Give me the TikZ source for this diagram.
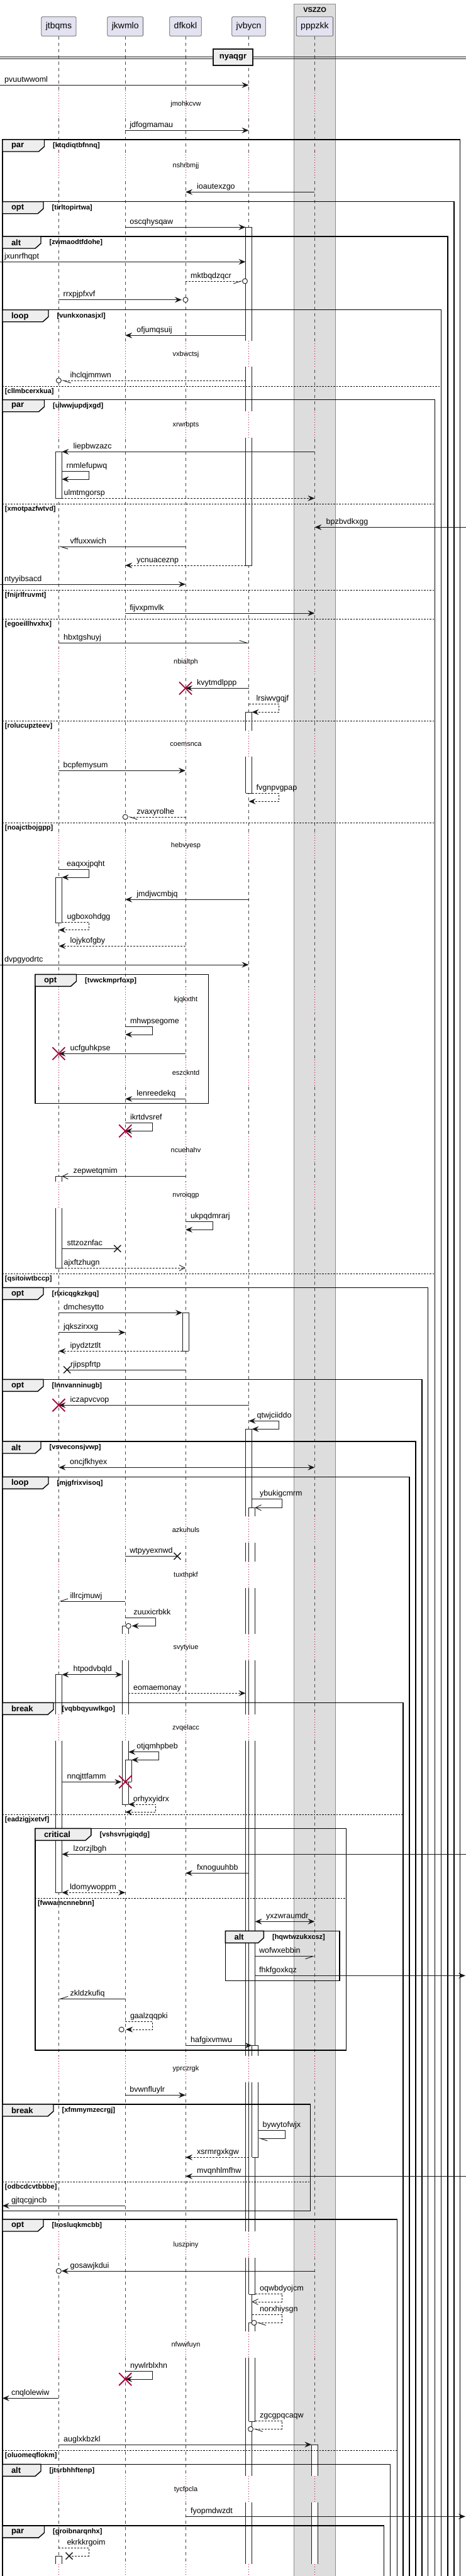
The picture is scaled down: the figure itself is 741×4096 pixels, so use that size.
\documentclass[tikz,border=0pt]{standalone}
\usepackage{fontspec}
\setmainfont{Liberation Sans}
\usetikzlibrary{arrows.meta}

\definecolor{ink}{HTML}{181818}
\definecolor{partfill}{HTML}{E2E2F0}
\definecolor{boxfill}{HTML}{DDDDDD}
\definecolor{tabfill}{HTML}{EEEEEE}
\definecolor{crim}{HTML}{A80036}

\tikzset{
  part/.style={draw=ink!70, fill=partfill, rounded corners=2pt, line width=0.8pt,
    minimum height=30.6pt, inner xsep=7pt, text height=10pt, text depth=3pt,
    font=\fontsize{14}{16}\selectfont},
  boxline/.style={draw=black!45, fill=boxfill, line width=0.8pt},
  boxlbl/.style={font=\bfseries\fontsize{11}{13}\selectfont, inner sep=0pt},
  life/.style={draw=ink!80, line width=0.6pt, dash pattern=on 5pt off 5pt},
  gap/.style={draw=crim, line width=0.8pt, dash pattern=on 1pt off 3pt},
  delaytxt/.style={font=\fontsize{11}{13}\selectfont, inner sep=0pt},
  sepbox/.style={draw=ink, fill=tabfill, line width=1.4pt, minimum width=63pt,
    minimum height=26pt, font=\bfseries\fontsize{13}{15}\selectfont},
  actline/.style={draw=ink, line width=0.8pt},
  msgline/.style={draw=ink, line width=0.9pt},
  lbl/.style={anchor=base west, inner sep=0pt, font=\fontsize{12.5}{14}\selectfont},
  sol/.style={-{Stealth[length=11pt,width=9pt,inset=4pt]}},
  both/.style={{Stealth[length=11pt,width=9pt,inset=4pt]}-{Stealth[length=11pt,width=9pt,inset=4pt]}},
  opn/.style={-{Straight Barb[length=9pt,width=9pt]}},
  halfL/.style={-{Straight Barb[left,length=12pt,width=8pt]}},
  halfR/.style={-{Straight Barb[right,length=12pt,width=8pt]}},
  dsh/.style={dash pattern=on 3pt off 2pt},
  killmark/.style={draw=crim, line width=1.8pt},
  lostmark/.style={draw=ink, line width=1.4pt},
  circmark/.style={draw=ink, fill=white, line width=0.9pt},
  grpline/.style={draw=black, line width=1.4pt},
  grptab/.style={draw=black, fill=tabfill, line width=1.4pt},
  kindtxt/.style={anchor=west, inner sep=0pt, font=\bfseries\fontsize{13}{15}\selectfont},
  grplbl/.style={anchor=west, inner sep=0pt, font=\bfseries\fontsize{11}{13}\selectfont},
  elseline/.style={draw=black, line width=0.8pt, dash pattern=on 2.5pt off 2pt}
}

% messages: label x from start (msgr) or from tip (msgl)
\newcommand\msgr[6][7]{\draw[msgline,#2] (#3 |- 0,#5) -- (#4 |- 0,#5);
  \path (#3 |- 0,#5) ++(#1,-5) node[lbl] (#6) {#6};}
\newcommand\msgl[6][18]{\draw[msgline,#2] (#3 |- 0,#5) -- (#4 |- 0,#5);
  \path (#4 |- 0,#5) ++(#1,-5) node[lbl] (#6) {#6};}
\newcommand\selfmsg[8][7]{\draw[msgline,#2] (#3 |- 0,#5) -- (#7,#5) -- (#7,#6) -- (#4 |- 0,#6);
  \path (#3 |- 0,#5) ++(#1,-5) node[lbl] (#8) {#8};}
\newcommand\killx[2]{\path (#1 |- 0,#2) coordinate (kx);
  \draw[killmark] ([shift={(-10,-10)}]kx) -- ([shift={(10,10)}]kx) ([shift={(-10,10)}]kx) -- ([shift={(10,-10)}]kx);}
\newcommand\lostx[3][0]{\path (#2 |- 0,#3) ++(#1,0) coordinate (lx);
  \draw[lostmark] ([shift={(-5.5,-5.5)}]lx) -- ([shift={(5.5,5.5)}]lx) ([shift={(-5.5,5.5)}]lx) -- ([shift={(5.5,-5.5)}]lx);}
\newcommand\tipcirc[3][0]{\path (#2 |- 0,#3) ++(#1,0) coordinate (cx);
  \draw[circmark] (cx) circle[radius=4pt];}
% activation bar piece: centre, top, bottom, top edge?, bottom edge?
\newcommand\actseg[5]{\path (#1 |- 0,#2) coordinate (b1) (#1 |- 0,#3) coordinate (b2);
  \fill[white] ([xshift=-5pt]b1) rectangle ([xshift=5pt]b2);
  \draw[actline] ([xshift=-5pt]b1) -- ([xshift=-5pt]b2) ([xshift=5pt]b1) -- ([xshift=5pt]b2);
  \ifnum#4=1 \draw[actline] ([xshift=-5pt]b1) -- ([xshift=5pt]b1);\fi
  \ifnum#5=1 \draw[actline] ([xshift=-5pt]b2) -- ([xshift=5pt]b2);\fi}
% fragments: kind, guard, left, right, top, bottom, tab width
\newcommand\grp[7]{\draw[grpline] (#3,#5) rectangle (#4,#6);
  \draw[grptab] (#3,#5) -- ++(#7,0) -- ++(0,11) -- ++(-9,8) -- (#3,{#5+19}) -- cycle;
  \node[kindtxt] (k-#2) at ({#3+14},{#5+10}) {#1};
  \node[grplbl] (g-#2) at ({#3+#7+13.5},{#5+10}) {[#2]};}
\newcommand\grpelse[4]{\draw[elseline] (#1,#3) -- (#2,#3);
  \node[grplbl] (g-#4) at ({#1+4},{#3+8.5}) {[#4]};}

\begin{document}
\begin{tikzpicture}[x=1pt,y=-1pt]
\useasboundingbox (0,0) rectangle (741,4096);
\fill[white] (0,0) rectangle (741,4096);

\draw[boxline] (467.5,6.3) rectangle (533.7,4110);
\node[boxlbl] (vszzo) at (500.6,15.3) {VSZZO};

\node[part] (A) at (93.4,42) {jtbqms};
\node[part] (B) at (199.2,42) {jkwmlo};
\node[part] (C) at (295,42) {dfkokl};
\node[part] (D) at (395.5,42) {jvbycn};
\node[part] (E) at (500.4,42) {pppzkk};

\coordinate (L) at (0,0); \coordinate (Lf) at (3.8,0);
\coordinate (R) at (741,0); \coordinate (Rf) at (740,0);
\coordinate (Ar) at ([xshift=5pt]A.center);
\coordinate (Bl) at ([xshift=-5pt]B.center); \coordinate (Br) at ([xshift=5pt]B.center);
\coordinate (Bn) at ([xshift=10pt]B.center);
\coordinate (Cl) at ([xshift=-5pt]C.center);
\coordinate (Dl) at ([xshift=-5pt]D.center); \coordinate (Dr) at ([xshift=5pt]D.center);
\coordinate (Dn) at ([xshift=10pt]D.center); \coordinate (Dt) at ([xshift=15pt]D.center);
\coordinate (El) at ([xshift=-5pt]E.center);

\foreach \p in {A,B,C,D,E} \draw[life] (\p.south) -- (\p |- 0,4110);

% delays
\foreach \y in {165.3,263.3,563.3,676,1052.3,1183.3,1345,1590,1705.7,1828.3,1900.3,
  2432.3,2504.3,2619.3,2747.3,3289.7,3569.3,3728.3,3958.3,4098.3}{
  \pgfmathsetmacro\ya{\y-21} \pgfmathsetmacro\yb{\y+21}
  \foreach \p in {A,B,C,D}{
    \draw[white,line width=3pt] (\p |- 0,\ya) -- (\p |- 0,\yb);
    \draw[gap] (\p |- 0,\ya) -- (\p |- 0,\yb);}
  \draw[boxfill,line width=3pt] (E |- 0,\ya) -- (E |- 0,\yb);
  \draw[gap] (E |- 0,\ya) -- (E |- 0,\yb);
}
\foreach \t/\y in {jmohkcvw/165.3,nshrbmjj/263.3,vxbwctsj/563.3,xrwrbpts/676,nbialtph/1052.3,
  coemsnca/1183.3,hebvyesp/1345,kjqkxtht/1590,eszckntd/1705.7,ncuehahv/1828.3,nvroiqgp/1900.3,
  azkuhuls/2432.3,tuxthpkf/2504.3,svytyiue/2619.3,zvqelacc/2747.3,yprczrgk/3289.7,
  luszpiny/3569.3,nfwwfuyn/3728.3,tycfpcla/3958.3}
  \node[delaytxt] (\t) at (295.5,\y) {\t};

% separator
\draw[ink,line width=0.9pt] (0,90) -- (741,90) (0,93.3) -- (741,93.3);
\node[sepbox] (nyaqgr) at (370.5,91) {nyaqgr};

% activations
\foreach \p/\ya/\yb/\tp/\bt in {D/361.3/541.7/1/0, D/583.3/654.3/0/0, D/696/899/0/1,
  D/1132.3/1161.7/1/0, D/1203/1261.3/0/1,
  D/2272.3/2411.3/1/0, D/2453.3/2483.3/0/0, D/2525.3/2598.3/0/0, D/2640.3/2726.3/0/0,
  D/2768.3/3268.7/0/0, D/3310.7/3548.3/0/0, D/3590.3/3707.3/0/0, D/3749.3/3937.3/0/0,
  D/3979.3/4077.3/0/0,
  Dr/2397.3/2411.3/1/0, Dr/2453.3/2483.3/0/0, Dr/2525.3/2598.3/0/0, Dr/2640.3/2726.3/0/0,
  Dr/2768.3/3268.7/0/0, Dr/3310.7/3548.3/0/0, Dr/3590.3/3648.3/0/1,
  Dr/3693.3/3707.3/1/0, Dr/3749.3/3850.3/0/1,
  Dn/3252.3/3268.7/1/0, Dn/3310.7/3430.3/0/1,
  A/718.3/792.3/1/1, A/1395/1467.3/1/1, A/1870.3/1879.3/1/0, A/1921.3/2016/0/1,
  A/2662.7/2726.3/1/0, A/2768.3/3009.3/0/1, A/4064/4077.3/1/0,
  B/2585.3/2598.3/1/0, B/2640.3/2726.3/0/0, B/2768.3/2869/0/1, Br/2798.3/2833.3/1/1,
  C/2087.3/2148.3/1/1,
  E/3887/3937.3/1/0, E/3979.3/4077.3/0/0}
  \actseg{\p}{\ya}{\yb}{\tp}{\bt};

% fragments
\grp{par}{ktqdiqtbfnnq}{3.8}{731.5}{222}{4110}{66.7}
\grp{opt}{tirltopirtwa}{3.8}{722}{320.7}{4110}{65.2}
\grp{alt}{zwmaodtfdohe}{3.8}{712}{376}{4110}{61.2}
\grp{loop}{vunkxonasjxl}{3.8}{701.5}{492.7}{4110}{73.2}
\grpelse{3.8}{701.5}{614.3}{cllmbcerxkua}
\grp{par}{ulwwjupdjxgd}{3.8}{691.5}{635.7}{4110}{66.7}
\foreach \y/\g in {801/xmotpazfwtvd,938/fnijrlfruvmt,984/egoeillhvxhx,1146.3/rolucupzteev,
  1308.3/noajctbojgpp,2025/qsitoiwtbccp} \grpelse{3.8}{691.5}{\y}{\g};
\grp{opt}{tvwckmprfoxp}{55.8}{331.2}{1549.3}{1754.3}{65.7}
\grp{opt}{rlxicqgkzkgq}{3.8}{680.5}{2047.3}{4110}{65.2}
\grp{opt}{lnnvanninugb}{3.8}{671}{2193.3}{4110}{65.2}
\grp{alt}{vsveconsjvwp}{3.8}{661}{2292}{4110}{61.2}
\grp{loop}{mjgfrixvisoq}{3.8}{651}{2348.3}{4110}{73.2}
\grp{break}{vqbbqyuwlkgo}{3.8}{641}{2707.3}{4110}{81.2}
\grpelse{3.8}{641}{2885}{eadzigjxetvf}
\grp{critical}{vshsvrugiqdg}{55.8}{550.4}{2907.3}{3260}{89.1}
\grpelse{55.8}{550.4}{3018.3}{fwwamcnnebnn}
\grp{alt}{hqwtwzukxcsz}{358.4}{540}{3070.3}{3149.3}{61}
\grp{break}{xfmmymzecrgj}{3.8}{493.7}{3346}{3515.3}{81.2}
\grpelse{3.8}{493.7}{3469.3}{odbcdcvtbbbe}
\grp{opt}{lrosluqkmcbb}{3.8}{631.4}{3529}{4110}{65.2}
\grpelse{3.8}{631.4}{3896}{oluomeqflokm}
\grp{alt}{jtsrbhhftenp}{3.8}{620.4}{3918.3}{4110}{61.2}
\grp{par}{groibnarqnhx}{3.8}{610.4}{4016}{4110}{66.7}

% messages
\msgr{sol}{L}{D}{135.3}{pvuutwwoml}
\msgr{sol}{B}{D}{207.3}{jdfogmamau}
\msgl{sol}{E}{C}{305.3}{ioautexzgo}
\msgr{sol}{B}{Dl}{361.3}{oscqhysqaw}
\msgr{sol}{L}{Dl}{416.3}{jxunrfhqpt}
\msgr[8]{dsh,halfR,shorten >=4.5pt}{C}{Dl}{447}{mktbqdzqcr}
\tipcirc[-1]{Dl}{447}
\msgr{sol,shorten >=6pt}{A}{C}{476.7}{rrxpjpfxvf}
\tipcirc{C}{476.7}
\msgl{sol}{Dl}{B}{533.3}{ofjumqsuij}
\msgl{dsh,halfL,shorten >=4.5pt}{Dl}{A}{605}{ihclqjmmwn}
\tipcirc{A}{605}
\msgl{sol}{E}{Ar}{718.3}{liepbwzazc}
\selfmsg{sol}{Ar}{Ar}{749.3}{762}{141.5}{rnmlefupwq}
\msgr[3]{sol,dsh}{Ar}{E}{792.3}{ulmtmgorsp}
\msgl{sol}{R}{E}{838.3}{bpzbvdkxgg}
\msgl{halfL}{C}{A}{869}{vffuxxwich}
\msgl{sol,dsh}{Dl}{B}{899}{ycnuaceznp}
\msgr{sol}{L}{C}{929}{ntyyibsacd}
\msgr{sol}{B}{E}{975}{fijvxpmvlk}
\msgr[7.6]{halfL}{A}{D}{1022.3}{hbxtgshuyj}
\msgl{sol}{D}{C}{1094.3}{kvytmdlppp}
\killx{C}{1094.3}
\selfmsg[12]{sol,dsh}{D}{Dr}{1119.3}{1132.3}{443}{lrsiwvgqjf}
\msgr{sol}{A}{C}{1225.3}{bcpfemysum}
\selfmsg{sol,dsh}{Dr}{D}{1261.3}{1274.3}{443}{fvgnpvgpap}
\msgl{dsh,halfL,shorten >=4.5pt}{C}{B}{1299}{zvaxyrolhe}
\tipcirc{B}{1299}
\selfmsg[12.6]{sol}{A}{Ar}{1382.3}{1395}{141.5}{eaqxxjpqht}
\msgl{sol}{D}{B}{1430.3}{jmdjwcmbjq}
\selfmsg[8]{sol,dsh}{Ar}{A}{1466.3}{1478.7}{141.5}{ugboxohdgg}
\msgl{sol,dsh}{C}{A}{1504.3}{lojykofgby}
\msgr{sol}{L}{D}{1534}{dvpgyodrtc}
\selfmsg[7.6]{sol}{B}{B}{1632.3}{1645}{242.6}{mhwpsegome}
\msgl{sol}{C}{A}{1675.3}{ucfguhkpse}
\killx{A}{1675.3}
\msgl{sol}{C}{B}{1747.3}{lenreedekq}
\selfmsg[7.6]{sol}{B}{B}{1785.7}{1798.3}{242.6}{ikrtdvsref}
\killx{B}{1798.3}
\msgl{opn}{C}{Ar}{1870.3}{zepwetqmim}
\selfmsg[8]{sol}{C}{C}{1942.3}{1955.3}{338.3}{ukpqdmrarj}
\lostx[-12.4]{B}{1985.3}
\draw[msgline] (Ar |- lx) -- (lx);
\path (Ar |- lx) ++(8,-5) node[lbl] (sttzoznfac) {sttzoznfac};
\msgr[3]{opn,dsh}{Ar}{C}{2016}{ajxftzhugn}
\msgr[7.6]{sol}{A}{Cl}{2087.3}{dmchesytto}
\msgr[7.6]{sol}{A}{B}{2118.7}{jqkszirxxg}
\msgl{sol,dsh}{Cl}{A}{2148.3}{ipydztztlt}
\lostx[13.3]{A}{2178}
\draw[msgline] (C |- lx) -- (lx);
\path (A |- lx) ++(18.6,-5) node[lbl] (rjipspfrtp) {rjipspfrtp};
\msgl{sol}{D}{A}{2234.3}{iczapvcvop}
\killx{A}{2234.3}
\selfmsg[13]{both}{D}{Dr}{2259.3}{2272.3}{443}{qtwjciiddo}
\msgr[17.6]{both}{A}{E}{2333.3}{oncjfkhyex}
\selfmsg[12.5]{opn}{Dr}{Dn}{2383.3}{2397.3}{448.4}{ybukigcmrm}
\lostx[-13]{C}{2474.3}
\draw[msgline] (B |- lx) -- (lx);
\path (B |- lx) ++(7,-5) node[lbl] (wtpyyexnwd) {wtpyyexnwd};
\msgl{halfR}{B}{A}{2546}{illrcjmuwj}
\selfmsg[13]{sol,shorten >=5.5pt}{B}{Br}{2572.3}{2585.3}{247.8}{zuuxicrbkk}
\tipcirc{Br}{2585.3}
\msgr[18]{both}{Ar}{Bl}{2662.7}{htpodvbqld}
\msgr[7.8]{sol,dsh}{Br}{Dl}{2692.3}{eomaemonay}
\selfmsg[13]{both}{Br}{Bn}{2785.7}{2798.3}{252.6}{otjqmhpbeb}
\msgr[8]{sol,shorten >=6pt}{Ar}{B}{2833.3}{nnqjttfamm}
\killx{B}{2833.3}
\selfmsg[7.5]{both,dsh}{Br}{B}{2869}{2881.3}{247.8}{orhyxyidrx}
\msgl{sol}{R}{Ar}{2948.3}{lzorzjlbgh}
\msgl{sol}{D}{C}{2978.3}{fxnoguuhbb}
\msgr[12.6]{both,dsh}{Ar}{B}{3009.3}{ldomywoppm}
\msgr[17.5]{both}{Dn}{E}{3055.3}{yxzwraumdr}
\msgr[6.5]{halfR}{Dn}{E}{3110.7}{wofwxebbin}
\msgr[6.5]{sol}{Dn}{Rf}{3141.3}{fhkfgoxkqz}
\msgl{halfR}{B}{A}{3178.3}{zkldzkufiq}
\selfmsg[7.6]{sol,dsh,shorten >=1pt}{B}{B}{3214.3}{3227}{242.6}{gaalzqqpki}
\tipcirc[-6]{B}{3227}
\msgr[8]{sol}{C}{Dr}{3252.3}{hafgixvmwu}
\msgr{sol}{B}{C}{3331.3}{bvwnfluylr}
\selfmsg{halfL}{Dt}{Dt}{3387.3}{3400}{453}{bywytofwjx}
\msgl{sol,dsh}{D}{C}{3430.3}{xsrmrgxkgw}
\msgl{sol}{R}{C}{3460.3}{mvqnhlmfhw}
\msgl[14]{sol}{B}{Lf}{3507.3}{gjtqcgjncb}
\msgl{sol,shorten >=4.5pt}{E}{A}{3611}{gosawjkdui}
\tipcirc{A}{3611}
\selfmsg[7.5]{opn,dsh}{Dn}{Dr}{3647.3}{3660}{448.4}{oqwbdyojcm}
\selfmsg[12.5]{halfL,dsh,shorten >=7.5pt}{Dr}{Dr}{3680.3}{3693.3}{448.4}{norxhiysgn}
\tipcirc[3.5]{Dr}{3693.3}
\selfmsg[7.6]{sol}{B}{B}{3770.3}{3783}{242.6}{nywlrblxhn}
\killx{B}{3783}
\msgl[14]{sol}{A}{Lf}{3813.3}{cnqlolewiw}
\selfmsg[7.5]{halfL,dsh,shorten >=2.5pt}{Dn}{Dr}{3849.3}{3862.3}{448.4}{zgcgpqcaqw}
\tipcirc[-2]{Dr}{3862.3}
\msgr[7.6]{sol}{A}{El}{3887}{auglxkbzkl}
\msgr[8]{sol}{C}{Rf}{4001.3}{fyopmdwzdt}
\lostx[16.6]{A}{4064}
\draw[msgline,dsh] (A |- 0,4051.3) -- (141.5,4051.3) -- (141.5,4064) -- (lx);
\path (A |- 0,4051.3) ++(12.9,-5) node[lbl] (ekrkkrgoim) {ekrkkrgoim};

\end{tikzpicture}
\end{document}
